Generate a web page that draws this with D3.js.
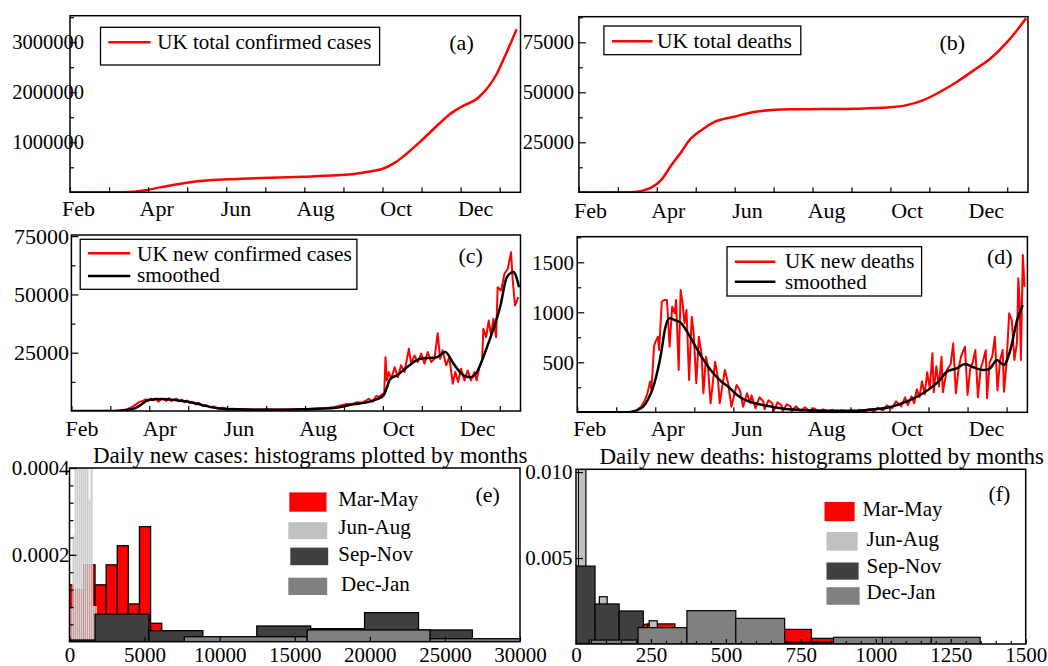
<!DOCTYPE html>
<html><head><meta charset="utf-8">
<script src="https://cdn.jsdelivr.net/npm/d3@7"></script>
<style>html,body{margin:0;padding:0;background:#fff;}svg{display:block;}</style>
</head><body>
<script>
// ================= DATA =================
const monthLabels = ["Feb","Apr","Jun","Aug","Oct","Dec"];
const monthLabelDays = [0,60,121,182,244,305];
const DAY_MAX = 346;
const dayTickStep = 30;

// (a) UK total confirmed cases
const totalCasesDay = [0,40,59.6,68,89.7,107,127.8,153.7,179.6,205.5,218.5,231.4,239.7,249.6,257.4,270.4,283.3,291,300,314.4,327.4,335.1,343];
const totalCases    = [0,0,46000,93000,193000,240000,266000,292000,312000,340000,366000,420000,466000,593000,746000,1046000,1366000,1546000,1700000,1910000,2350000,2780000,3260000];

// (b) UK total deaths
const totalDeathsDay = [0,40,48,55.7,63.5,71.3,79,84.2,94.6,104.9,119.7,136,162,187.8,213.7,239.6,252.5,265.5,278.5,291.4,304.4,317.3,330.2,340.6,344.5];
const totalDeaths    = [0,0,650,2300,6200,13600,20300,25300,31200,35300,37800,40300,41500,41600,41800,42500,43600,46100,50300,55300,61100,67000,75300,83600,87000];

// (c) UK new confirmed cases (daily) and smoothed
const newCasesDay = [0,33,38,42,46,49,52,55,57,59,61,63,65,67,69,71,73,75,77,79,81,83,85,87,89,91,93,96,98,101,104,107,110,113,117,120,125,130,135,140,150,160,170,180,190,197,203,208,212,216,220,224,227,229,232,235,237,239,241,242,243,244.5,246.5,249,251.5,254,256.6,260,261.8,264.3,266.8,269.5,272,274.5,277.2,279.7,282.2,284.1,286,288.7,291.2,293.8,295.8,297.9,300.2,302.8,305.3,307.9,310.5,312.2,314.3,316.4,317.4,319.5,321.5,323.3,325.1,327.2,328.4,331.1,333.6,336.2,338.7,340,341.8,344.3];
const newCases    = [0,0,200,600,1500,2500,3800,4300,5000,4200,5300,4500,5400,4000,5000,5200,4300,5500,4200,5000,5300,4200,4800,3800,4500,3300,3900,2800,3500,2200,2500,1600,1900,1200,1400,900,1000,700,800,600,700,600,800,900,1100,1300,1700,2500,3000,2800,3800,3500,4400,5200,4000,6500,6000,7000,7500,23100,13100,16700,13800,18800,14500,19600,16700,26700,20300,23800,21000,24600,20300,25300,21000,22400,33400,22400,26000,19600,23100,11700,16700,12400,18100,13100,17400,13100,16700,13100,18800,21700,35300,31700,38800,32400,39600,31700,53100,51700,58900,61000,68100,56000,45300,48800];
const smoothCasesDay = [0,33,40,48.7,55,59,69.4,79.8,90.2,100.5,113.5,126.4,152.4,178.3,204,217,230,236,240.5,243,245.6,250.8,258.5,268.8,281.6,288,294.4,302.1,307.2,312.4,318.8,325.2,330.3,335.5,340.6,344.9];
const smoothCases    = [0,0,200,1100,3200,4700,5100,4700,4000,2600,1100,700,500,730,1400,2900,4000,5200,6700,10000,13800,15300,18800,22400,23100,25300,20300,15300,14500,16700,25300,35300,44600,57400,59600,53100];

// (d) UK new deaths (daily) and smoothed
const newDeathsDay = [0,38,41,45,49,52,54,56,57,58,59,60,62,63,65,67,69,71,73,75,76,78,79.5,81,82.5,84,86,88,89.5,91.5,93.5,95.5,97,99,100.5,102.5,106,108,109.5,113.5,116,118.5,122.5,125,127.5,130.5,133,134,137,140,143,144,147,150,151,154,157,158,161,164,165,168,172,175,179,182,186,189,193,196,200,203,207,210,214,217,221,224,228,231,235,238,242,245,249,252,254,257,259,261,263,265,267,269,271,273,274,276,278,280,281,284,287,289,291,293,295,298,300,302,304,306,308,310,312,314,315,317,319,321,323,325,327,328,330,332,334,336,338,339,340,341,342.5,343.8];
const newDeaths    = [0,0,3,15,56,120,190,306,230,423,656,700,756,623,1106,1123,1123,656,1056,990,1123,423,1223,1090,890,1023,323,956,790,290,756,590,190,556,456,90,506,356,90,423,290,56,273,223,56,190,90,170,40,150,110,30,120,90,15,100,70,10,80,60,10,60,10,50,5,40,5,30,3,25,3,20,3,20,5,25,8,30,10,45,20,70,40,110,60,150,70,160,90,230,150,310,180,400,240,590,200,460,260,556,200,420,480,690,190,420,560,656,173,430,500,623,150,430,520,620,140,500,560,756,220,520,623,206,500,990,923,523,700,1340,1123,523,1573,1256];
const smoothDeathsDay = [0,38.7,49,54.2,59.3,64.5,67.6,71,74.8,80,85.2,90.3,95.5,100.7,105.8,111,116.1,121.3,126.5,136.8,149.7,162.6,188.4,214.2,227.1,240,252.9,265.8,278.7,283.9,291.6,298.1,304.5,312.3,317.4,322.6,327.8,332.9,338.1,342.5];
const smoothDeaths    = [0,0,40,123,290,590,840,940,923,890,790,673,556,456,373,306,256,190,140,90,56,30,16,16,30,50,106,190,323,406,440,483,450,423,440,523,473,623,923,1073];

// (e) histograms of daily new cases (density per bin)
const periods = ["Mar-May","Jun-Aug","Sep-Nov","Dec-Jan"];
const casesMarMayStart = -520, casesMarMayWidth = 740;
const casesMarMayDensity = [0.000131,0.00012,0.000177,0.000131,0.000177,0.000221,0.000087,0.000265,0.0000424];
const casesJunAugStart = 80, casesJunAugWidth = 133;
const casesJunAugDensity = [0.000075,0.000244,0.0006,0.0009,0.0011,0.0009,0.0007,0.0006,0.0005,0.000328,0.00045,0.0000807,0.0000807];
const casesSepNovStart = -1890, casesSepNovWidth = 3590;
const casesSepNovDensity = [0.0000039,0.0000632,0.0000254,0.0000015,0.0000362,0.00003,0.0000669,0.000027];
const casesDecJanStart = 7645, casesDecJanWidth = 8180;
const casesDecJanDensity = [0.0000115,0.000027,0.0000069];

// (f) histograms of daily new deaths
const deathsMarMayStart = -34, deathsMarMayWidth = 91;
const deathsMarMayDensity = [0.0018,0.0011,0.00115,0.00117,0.0009,0.0012,0.0011,0.0012,0.00085,0.00033,0.0003,0.0002,0.0002,0.0001];
const deathsJunAugLeft  = [8,34,78,104,130,157,184,244];
const deathsJunAugRight = [33,60,104,130,157,184,211,271];
const deathsJunAugDensity = [0.012,0.004,0.00275,0.0015,0.001,0.0008,0.0006,0.00135];
const deathsSepNovStart = -17, deathsSepNovWidth = 80.5;
const deathsSepNovDensity = [0.00453,0.00233,0.00192,0.0008,0.0007,0.0007,0.0005,0.0003];
const deathsDecJanStart = 44, deathsDecJanWidth = 163;
const deathsDecJanDensity = [0.00023,0.00095,0.00194,0.00149,0.0001,0.00039,0.00039,0.00039];

// ================= DRAWING =================
const FONT = '"Liberation Serif","Times New Roman",Times,serif';
const svg = d3.select("body").append("svg").attr("width",1048).attr("height",666)
  .attr("font-family",FONT);
const defs = svg.append("defs");

function addClip(id,L){
  defs.append("clipPath").attr("id",id).append("rect")
    .attr("x",L.x0).attr("y",L.y0).attr("width",L.x1-L.x0).attr("height",L.y1-L.y0);
}
function addFrame(g,L){
  g.append("rect").attr("x",L.x0).attr("y",L.y0).attr("width",L.x1-L.x0).attr("height",L.y1-L.y0)
    .attr("fill","none").attr("stroke","#000").attr("stroke-width",1.5);
}
function styleAxis(a,fs){
  a.attr("font-family",FONT).attr("font-size",fs);
  a.select(".domain").remove();
  a.selectAll(".tick line").attr("stroke","#000").attr("stroke-width",1.2);
  a.selectAll("text").attr("fill","#000");
}
function text(x,y,s,fs,anchor){
  return svg.append("text").attr("x",x).attr("y",y).attr("font-size",fs)
    .attr("text-anchor",anchor||"start").attr("fill","#000").text(s);
}
function legendBox(x0,y0,x1,y1){
  svg.append("rect").attr("x",x0).attr("y",y0).attr("width",x1-x0).attr("height",y1-y0)
    .attr("fill","#fff").attr("stroke","#000").attr("stroke-width",1.3);
}
function legendLine(x0,x1,y,color,w){
  svg.append("line").attr("x1",x0).attr("x2",x1).attr("y1",y).attr("y2",y)
    .attr("stroke",color).attr("stroke-width",w);
}

function timePanel(id,L,yMax,yMajor,yMinor,yPad,yFs,labDx,labY,series){
  const x = d3.scaleLinear().domain([0,DAY_MAX]).range([L.x0,L.x1]);
  const y = d3.scaleLinear().domain([0,yMax]).range([L.y1,L.y0]);
  addClip("clip-"+id,L);
  const g = svg.append("g");
  series.forEach(s=>{
    const pts = s.d.map((d,i)=>[d,s.v[i]]);
    const line = d3.line().x(p=>x(p[0])).y(p=>y(p[1])).curve(s.smooth?d3.curveMonotoneX:d3.curveLinear);
    g.append("path").attr("d",line(pts)).attr("clip-path",`url(#clip-${id})`)
      .attr("fill","none").attr("stroke",s.color).attr("stroke-width",s.w)
      .attr("stroke-linejoin","round");
  });
  g.append("g").attr("transform",`translate(0,${L.y1})`)
    .call(d3.axisBottom(x).tickValues(d3.range(0,DAY_MAX,dayTickStep)).tickSizeInner(-5).tickSizeOuter(0).tickFormat(""))
    .call(a=>styleAxis(a,22));
  g.append("g").attr("transform",`translate(0,${L.y1})`)
    .call(d3.axisBottom(x).tickValues(monthLabelDays).tickSize(0).tickFormat((d,i)=>monthLabels[i]))
    .call(a=>{styleAxis(a,22);a.selectAll(".tick line").remove();
      a.selectAll("text").attr("y",labY).attr("dy",null).attr("dx",labDx);});
  g.append("g").attr("transform",`translate(${L.x0},0)`)
    .call(d3.axisLeft(y).tickValues(yMinor).tickSizeInner(-4).tickSizeOuter(0).tickFormat(""))
    .call(a=>styleAxis(a,yFs));
  g.append("g").attr("transform",`translate(${L.x0},0)`)
    .call(d3.axisLeft(y).tickValues(yMajor).tickSizeInner(-7).tickSizeOuter(0).tickPadding(yPad).tickFormat(d3.format("d")))
    .call(a=>styleAxis(a,yFs));
  addFrame(g,L);
}

function bins(start,width,dens){ return dens.map((d,i)=>({x0:start+i*width,x1:start+(i+1)*width,d})); }

function histPanel(id,L,xMax,xMajor,xMinor,yMax,yMajor,yMinor,yFmt,yPad,fs,labY,layers){
  const x = d3.scaleLinear().domain([0,xMax]).range([L.x0,L.x1]);
  const y = d3.scaleLinear().domain([0,yMax]).range([L.y1,L.y0]);
  addClip("clip-"+id,L);
  const g = svg.append("g");
  layers.forEach(ly=>{
    g.append("g").attr("clip-path",`url(#clip-${id})`).selectAll("rect").data(ly.bars).join("rect")
      .attr("x",b=>x(b.x0)).attr("width",b=>x(b.x1)-x(b.x0))
      .attr("y",b=>y(b.d)).attr("height",b=>y(0)-y(b.d))
      .attr("fill",ly.fill).attr("fill-opacity",ly.op||1)
      .attr("stroke",ly.stroke).attr("stroke-width",ly.sw);
  });
  if(xMinor.length){
    g.append("g").attr("transform",`translate(0,${L.y1})`)
      .call(d3.axisBottom(x).tickValues(xMinor).tickSizeInner(-3).tickSizeOuter(0).tickFormat(""))
      .call(a=>styleAxis(a,fs));
  }
  g.append("g").attr("transform",`translate(0,${L.y1})`)
    .call(d3.axisBottom(x).tickValues(xMajor).tickSizeInner(-5).tickSizeOuter(0).tickFormat(d3.format("d")))
    .call(a=>{styleAxis(a,fs);a.selectAll("text").attr("y",labY).attr("dy",null);});
  if(yMinor.length){
    g.append("g").attr("transform",`translate(${L.x0},0)`)
      .call(d3.axisLeft(y).tickValues(yMinor).tickSizeInner(-4).tickSizeOuter(0).tickFormat(""))
      .call(a=>styleAxis(a,fs));
  }
  g.append("g").attr("transform",`translate(${L.x0},0)`)
    .call(d3.axisLeft(y).tickValues(yMajor).tickSizeInner(-7).tickSizeOuter(0).tickPadding(yPad).tickFormat(yFmt))
    .call(a=>styleAxis(a,fs));
  addFrame(g,L);
}

const RED="#ff0000", JA="#c0c0c0", SN="#404040", DJ="#808080";

// ---- (a)
timePanel("a",{x0:70,x1:520.5,y0:15.7,y1:192.3},3530000,[1000000,2000000,3000000],
  d3.range(500000,3530000,1000000),-14,20.5,8,24,
  [{d:totalCasesDay,v:totalCases,color:RED,w:2.5,smooth:true}]);
legendBox(100.5,27.3,379.6,65);
legendLine(108.3,150.6,42.3,RED,2.5);
text(157.3,49.3,"UK total confirmed cases",21);
text(449.3,49.5,"(a)",22);

// ---- (b)
timePanel("b",{x0:578.9,x1:1028,y0:16.7,y1:192.3},87800,[25000,50000,75000],
  d3.range(12500,87800,25000),5,20.5,11,26,
  [{d:totalDeathsDay,v:totalDeaths,color:RED,w:2.5,smooth:true}]);
legendBox(603.9,26,800.8,54.7);
legendLine(612,652.6,41.3,RED,2.5);
text(657,48.3,"UK total deaths",21.5);
text(939.5,49.5,"(b)",22);

// ---- (c)
timePanel("c",{x0:71.4,x1:520.5,y0:235,y1:411},75500,[25000,50000,75000],
  d3.range(12500,75500,25000),2.3,22,10,25,
  [{d:newCasesDay,v:newCases,color:RED,w:2},{d:smoothCasesDay,v:smoothCases,color:"#000",w:2.5,smooth:true}]);
legendBox(80.2,239.3,356.9,289.3);
legendLine(88,130.3,253.3,RED,2.5);
legendLine(88,130.3,276,"#000",2.5);
text(137,260.7,"UK new confirmed cases",21.3);
text(137,282.3,"smoothed",21.3);
text(458.4,263,"(c)",22);

// ---- (d)
timePanel("d",{x0:577.2,x1:1027.4,y0:236.7,y1:412.3},1756,[500,1000,1500],
  d3.range(250,1756,500),3.3,21,12,24,
  [{d:newDeathsDay,v:newDeaths,color:RED,w:2},{d:smoothDeathsDay,v:smoothDeaths,color:"#000",w:2.5,smooth:true}]);
legendBox(727,246.7,921.6,296);
legendLine(734.8,775.4,261.7,RED,2.5);
legendLine(734.8,775.4,281.7,"#000",2.5);
text(785,267.7,"UK new deaths",21);
text(785,289.3,"smoothed",21);
text(986.9,264,"(d)",22);

// ---- (e)
text(93,463,"Daily new cases: histograms plotted by months",23);
histPanel("e",{x0:69.5,x1:520,y0:468,y1:641.7},30000,d3.range(0,30001,5000),[],
  0.0004,[0.0002,0.0004],d3.range(0.00004,0.0004,0.00004),d3.format(".4f"),0,21,20.5,
  [
   {bars:bins(casesMarMayStart,casesMarMayWidth,casesMarMayDensity),fill:RED,stroke:"#000",sw:1.3},
   {bars:bins(casesJunAugStart,casesJunAugWidth,casesJunAugDensity),fill:JA,op:0.8,stroke:"#e4e4e4",sw:0.6},
   {bars:bins(casesSepNovStart,casesSepNovWidth,casesSepNovDensity),fill:SN,stroke:"#000",sw:1.3},
   {bars:bins(casesDecJanStart,casesDecJanWidth,casesDecJanDensity),fill:DJ,stroke:"#000",sw:1.3}
  ]);
const legE = [[289.3,492.4,37.2,19.3,RED],[288.3,522.2,38.9,16.9,JA],[290.3,547.6,37.9,17.6,SN],[288.3,577.7,38.9,17.3,DJ]];
const legETxt = [[338.3,506],[338.3,534.3],[338.3,561],[341,590.7]];
legE.forEach((r,i)=>{
  svg.append("rect").attr("x",r[0]).attr("y",r[1]).attr("width",r[2]).attr("height",r[3]).attr("fill",r[4]);
  text(legETxt[i][0],legETxt[i][1],periods[i],21);
});
text(475.4,502.3,"(e)",22);

// ---- (f)
text(599.4,464,"Daily new deaths: histograms plotted by months",23);
histPanel("f",{x0:576,x1:1025.7,y0:469.3,y1:644},1500,d3.range(0,1501,250),d3.range(50,1500,50).filter(v=>v%250!==0),
  0.01016,[0.005,0.010],[],d3.format(".3f"),3.6,21,18.2,
  [
   {bars:bins(deathsMarMayStart,deathsMarMayWidth,deathsMarMayDensity),fill:RED,stroke:"#000",sw:1.2},
   {bars:deathsJunAugDensity.map((d,i)=>({x0:deathsJunAugLeft[i],x1:deathsJunAugRight[i],d})),fill:JA,stroke:"#000",sw:1.2},
   {bars:bins(deathsSepNovStart,deathsSepNovWidth,deathsSepNovDensity),fill:SN,stroke:"#000",sw:1.2},
   {bars:bins(deathsDecJanStart,deathsDecJanWidth,deathsDecJanDensity),fill:DJ,stroke:"#000",sw:1.2}
  ]);
const legF = [[824.5,501.9,30.1,19.3,RED],[826.5,532,31.1,18.6,JA],[826.5,562.5,32.1,17.2,SN],[826.5,587.2,33.1,17.6,DJ]];
const legFTxt = [[862.5,516],[866.6,546],[866.6,573.3],[866.6,599.3]];
legF.forEach((r,i)=>{
  svg.append("rect").attr("x",r[0]).attr("y",r[1]).attr("width",r[2]).attr("height",r[3]).attr("fill",r[4]);
  text(legFTxt[i][0],legFTxt[i][1],periods[i],21);
});
text(988.4,500.7,"(f)",22);
</script>
</body></html>
